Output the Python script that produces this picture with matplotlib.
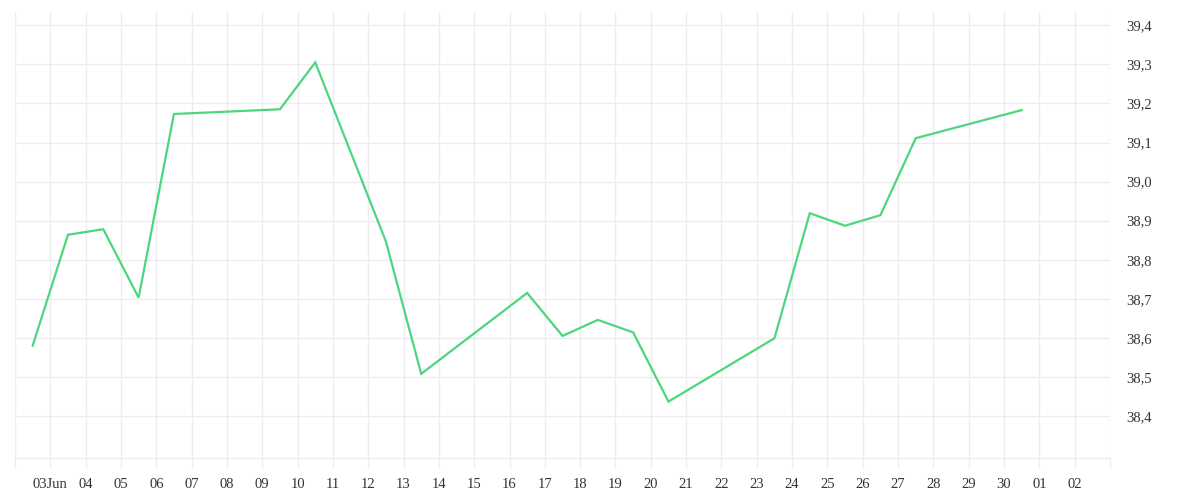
import datetime as dt
import matplotlib
matplotlib.use("Agg")
import matplotlib.pyplot as plt
import matplotlib.dates as mdates

# daily readings (taken at noon)
days = ["2023-06-02", "2023-06-03", "2023-06-04", "2023-06-05", "2023-06-06",
        "2023-06-09", "2023-06-10", "2023-06-12", "2023-06-13", "2023-06-16",
        "2023-06-17", "2023-06-18", "2023-06-19", "2023-06-20", "2023-06-23",
        "2023-06-24", "2023-06-25", "2023-06-26", "2023-06-27", "2023-06-30"]
values = [38.580, 38.864, 38.878, 38.703, 39.173,
          39.185, 39.305, 38.847, 38.508, 38.715,
          38.605, 38.646, 38.614, 38.437, 38.599,
          38.919, 38.887, 38.914, 39.111, 39.183]

tick_days = [dt.datetime(2023, 6, 2) + dt.timedelta(days=i) for i in range(32)]
tick_labels = [""] + ["03Jun"] + ["%02d" % d.day for d in tick_days[2:-1]] + [""]
y_ticks = [38.4, 38.5, 38.6, 38.7, 38.8, 38.9, 39.0, 39.1, 39.2, 39.3, 39.4]

plt.rcParams['font.family'] = ['Liberation Serif', 'DejaVu Serif']

x = [dt.datetime.strptime(d, "%Y-%m-%d") + dt.timedelta(hours=12) for d in days]

fig = plt.figure(figsize=(12, 5), dpi=100)
ax = fig.add_axes([15 / 1200, 1 - 458 / 500, 1095 / 1200, 446 / 500])

grid_col = "#ededed"
ax.plot(x, values, color="#4cd67e", linewidth=1.6, solid_joinstyle="miter", zorder=3)

ax.set_xlim(tick_days[0], tick_days[-1])
ax.set_ylim(38.2926, 39.434)

ax.set_xticks(tick_days)
ax.set_xticklabels(tick_labels)
ax.set_yticks(y_ticks)
ax.set_yticklabels([("%.1f" % v).replace(".", ",") for v in y_ticks])
ax.yaxis.tick_right()

ax.grid(True, color=grid_col, linewidth=1.0)
ax.tick_params(axis="x", length=7.2, width=1.0, color=grid_col, pad=7,
               labelsize=10.5, labelcolor="#333333")
ax.tick_params(axis="y", length=0, pad=12, labelsize=10.5, labelcolor="#333333")
for side in ["top", "left", "right"]:
    ax.spines[side].set_visible(False)
ax.spines["bottom"].set_color(grid_col)
ax.spines["bottom"].set_linewidth(1.0)

fig.savefig("out.png", dpi=100)
